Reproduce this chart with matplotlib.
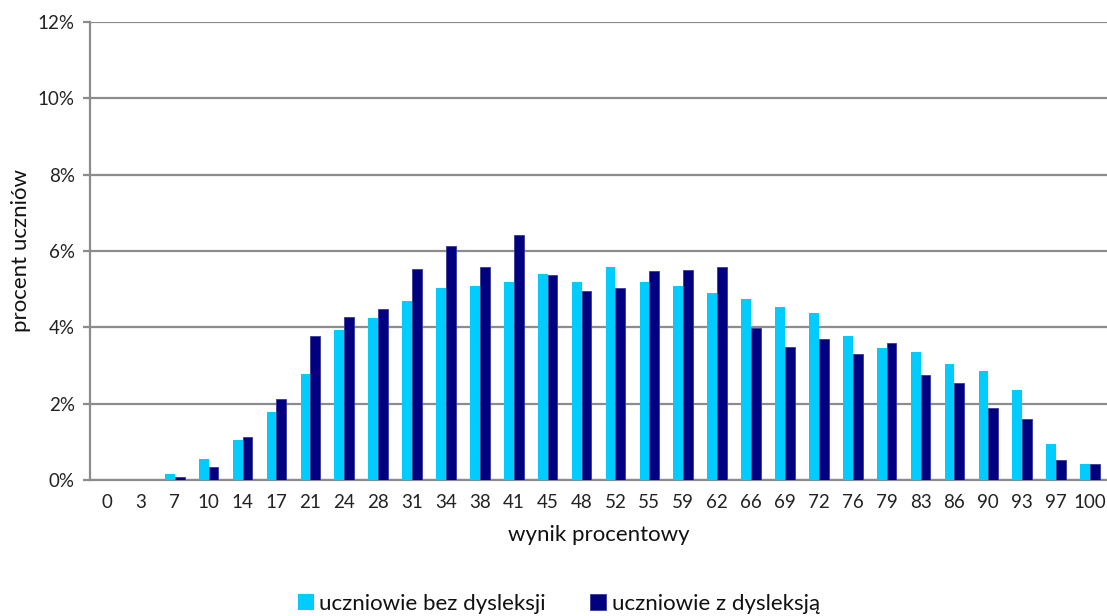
import matplotlib
matplotlib.use("Agg")
import matplotlib.pyplot as plt
import numpy as np
from matplotlib.ticker import FuncFormatter, MultipleLocator

plt.rcParams['font.family'] = ['Lato', 'DejaVu Sans']

categories = ["0", "3", "7", "10", "14", "17", "21", "24", "28", "31", "34", "38", "41", "45", "48",
              "52", "55", "59", "62", "66", "69", "72", "76", "79", "83", "86", "90", "93", "97", "100"]
bez_dysleksji = [0.0, 0.0, 0.16, 0.55, 1.05, 1.78, 2.78, 3.94, 4.25, 4.68, 5.04, 5.07, 5.19, 5.41, 5.19,
                 5.59, 5.19, 5.07, 4.90, 4.73, 4.52, 4.37, 3.76, 3.45, 3.36, 3.05, 2.85, 2.35, 0.95, 0.43]
z_dysleksja = [0.0, 0.0, 0.07, 0.34, 1.13, 2.11, 3.76, 4.28, 4.49, 5.53, 6.14, 5.59, 6.41, 5.38, 4.95,
               5.04, 5.47, 5.50, 5.59, 3.98, 3.48, 3.70, 3.30, 3.60, 2.75, 2.53, 1.89, 1.61, 0.52, 0.43]
series_names = ["uczniowie bez dysleksji", "uczniowie z dysleksją"]
colors = ["#00CCFF", "#000080"]

fig = plt.figure(figsize=(11.07, 6.16), dpi=100)
ax = fig.add_axes([90 / 1107, 1 - 480 / 616, 1017 / 1107, 458 / 616])

x = np.arange(len(categories))
w = 0.29
ax.bar(x - w / 2, bez_dysleksji, width=w, color=colors[0], label=series_names[0], zorder=3)
ax.bar(x + w / 2, z_dysleksja, width=w, color=colors[1], edgecolor="#3a3a9a", linewidth=0.6,
       label=series_names[1], zorder=3)

ax.set_xlim(-0.5, len(categories) - 0.5)
ax.set_ylim(0, 12)
ax.yaxis.set_major_locator(MultipleLocator(2))
ax.yaxis.set_major_formatter(FuncFormatter(lambda v, p: f"{v:.0f}%"))
ax.set_xticks(x)
ax.set_xticklabels(categories)

grid_col = "#8c8c8c"
ax.grid(axis="y", color=grid_col, linewidth=1.6, zorder=0)
for s in ["top", "right"]:
    ax.spines[s].set_visible(False)
for s in ["left", "bottom"]:
    ax.spines[s].set_color(grid_col)
    ax.spines[s].set_linewidth(1.6)
ax.tick_params(axis="y", length=5, width=1.6, color=grid_col, labelsize=13.5, labelcolor="#222222", pad=6)
ax.tick_params(axis="x", length=0, labelsize=13.5, labelcolor="#222222", pad=10)

ax.set_ylabel("procent uczniów", fontsize=16, color="#111111", labelpad=5)
ax.set_xlabel("wynik procentowy", fontsize=16, color="#111111", labelpad=10)

leg = fig.legend(loc="center", bbox_to_anchor=(559 / 1107, 1 - 604 / 616), ncol=2, frameon=False,
                 fontsize=16, handlelength=0.7, handleheight=0.7, handletextpad=0.25, columnspacing=2.0)
for t in leg.get_texts():
    t.set_color("#111111")

fig.savefig("out.png", dpi=100)
